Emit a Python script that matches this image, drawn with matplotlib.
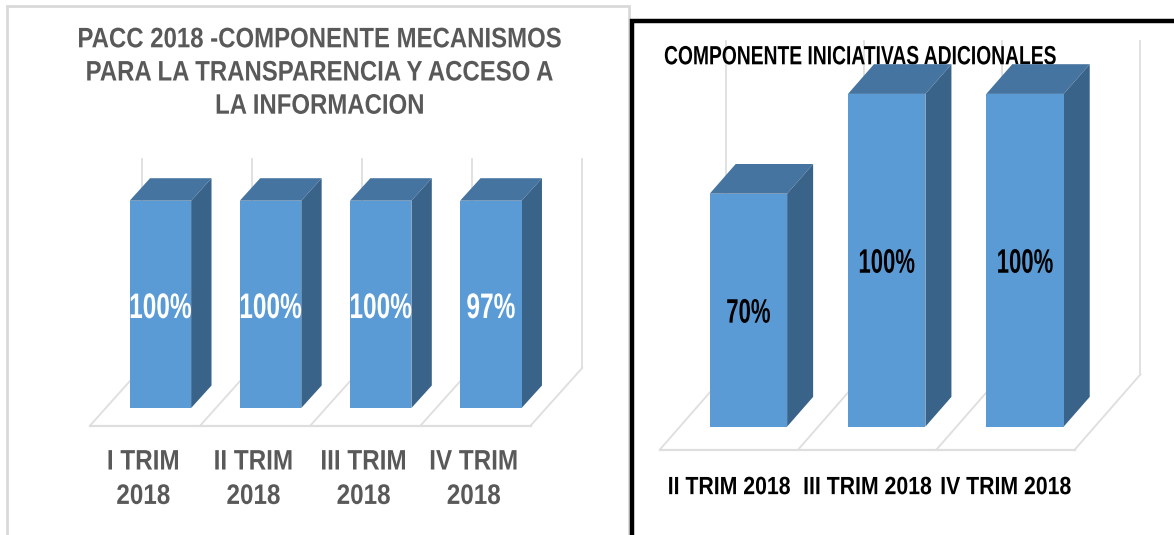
#!/usr/bin/env python3
import matplotlib
matplotlib.use("Agg")
import matplotlib.pyplot as plt
from matplotlib.patches import Polygon, Rectangle
from matplotlib.patheffects import AbstractPathEffect
from matplotlib.transforms import Affine2D, Bbox

W, H = 1174, 535
plt.rcParams["font.family"] = ["Liberation Sans"]

# ---- data ----
left_title = "PACC 2018 -COMPONENTE MECANISMOS\nPARA LA TRANSPARENCIA Y ACCESO A\nLA INFORMACION"
left_cats = ["I TRIM\n2018", "II TRIM\n2018", "III TRIM\n2018", "IV TRIM\n2018"]
left_heights = [100, 100, 100, 100]   # the 97% column is drawn as tall as the others
left_labels = ["100%", "100%", "100%", "97%"]

right_title = "COMPONENTE INICIATIVAS ADICIONALES"
right_cats = ["II TRIM 2018", "III TRIM 2018", "IV TRIM 2018"]
right_heights = [70, 100, 100]
right_labels = ["70%", "100%", "100%"]

FRONT, TOP, SIDE = "#5B9BD5", "#4674A1", "#3A6389"
GRID = "#DEDEDE"


class Squeeze(AbstractPathEffect):
    # narrow the glyphs around the text anchor, no condensed font is installed
    def __init__(self, artist, sx):
        super().__init__()
        self.artist = artist
        self.sx = sx

    def draw_path(self, renderer, gc, tpath, affine, rgbFace=None):
        cx = self.artist.get_transform().transform(self.artist.get_position())[0]
        squeeze = Affine2D().translate(-cx, 0).scale(self.sx, 1).translate(cx, 0)
        renderer.draw_path(gc, tpath, affine + squeeze, rgbFace)


def narrow_text(ax, x, y, s, sx, **kw):
    t = ax.text(x, y, s, fontweight="bold", clip_on=False, **kw)
    t.set_path_effects([Squeeze(t, sx)])
    full_extent = t.get_window_extent

    # report the narrowed box, not the one of the unsqueezed glyphs
    def narrowed_extent(renderer=None, dpi=None):
        b = full_extent(renderer, dpi)
        cx = t.get_transform().transform(t.get_position())[0]
        return Bbox([[cx + (b.x0 - cx) * sx, b.y0], [cx + (b.x1 - cx) * sx, b.y1]])

    t.get_window_extent = narrowed_extent
    return t


def chart_axes(fig, x0, pitch, y0, px_per_unit, box):
    # axes placed in pixels so that category i sits at x0 + i*pitch, value v at y0 - v*scale
    l, r, t, b = box
    ax = fig.add_axes([l / W, 1 - b / H, (r - l) / W, (b - t) / H])
    ax.set_xlim((l - x0) / pitch, (r - x0) / pitch)
    ax.set_ylim((y0 - b) / px_per_unit, (y0 - t) / px_per_unit)
    ax.axis("off")
    ax.patch.set_alpha(0)
    return ax


def columns(ax, values, width, dx, dy):
    for i, v in enumerate(values):
        x0, x1 = i - width / 2, i + width / 2
        ax.add_patch(Polygon([(x0, v), (x1, v), (x1 + dx, v + dy), (x0 + dx, v + dy)],
                             fc=TOP, ec="none", zorder=4))
        ax.add_patch(Polygon([(x1, 0), (x1 + dx, dy), (x1 + dx, v + dy), (x1, v)],
                             fc=SIDE, ec="none", zorder=4))
    ax.bar(range(len(values)), values, width=width, color=FRONT, zorder=5)


def floor(ax, n, front_x, back_dx, front_y, back_y, top_y):
    # front_x: left end of the floor in category units, one cell per category
    for i in range(n + 1):
        fx = front_x + i
        ax.plot([fx, fx + back_dx], [front_y, back_y], color=GRID, lw=1.3, zorder=1)
        ax.plot([fx + back_dx] * 2, [back_y, top_y], color=GRID, lw=1.3, zorder=1)
    ax.plot([front_x, front_x + n], [front_y, front_y], color=GRID, lw=1.6, zorder=1)


fig = plt.figure(figsize=(W / 100, H / 100), dpi=100, facecolor="white")

# page level: frames
bg = fig.add_axes([0, 0, 1, 1])
bg.set_xlim(0, W)
bg.set_ylim(H, 0)
bg.axis("off")
bg.add_patch(Rectangle((7, 6), 621.5, H + 20, fc="white", ec="#D9D9D9", lw=2))
bg.add_patch(Rectangle((631.5, 21), W + 20, H + 20, fc="white", ec="black", lw=3.2, zorder=3))

# ---- left chart ----
ax = chart_axes(fig, 160.4, 110.15, 408, 2.073, (80, 600, 150, 440))
floor(ax, 4, -0.639, 0.468, -8.5, 19.3, 120)
columns(ax, left_heights, 0.558, 0.185, 10.85)
for i, (v, s) in enumerate(zip(left_heights, left_labels)):
    narrow_text(ax, i, v / 2 - 2.0, s, 0.69, color="white", fontsize=25.5,
                ha="center", va="center", zorder=6)
narrow_text(bg, 320, 73.5, left_title, 0.85, color="#595959", fontsize=20.3,
            ha="center", va="center", linespacing=1.36)
for i, s in enumerate(left_cats):
    narrow_text(ax, i - 0.155, -34.6, s, 0.86, color="#595959", fontsize=20.3,
                ha="center", va="center", linespacing=1.42)

# ---- right chart ----
ax = chart_axes(fig, 748.4, 138.3, 426.6, 3.327, (650, 1150, 35, 455))
floor(ax, 3, -0.64, 0.475, -6.9, 15.7, 116)
columns(ax, right_heights, 0.56, 0.188, 8.93)
for i, (v, s) in enumerate(zip(right_heights, right_labels)):
    narrow_text(ax, i, v / 2 - 1.2, s, 0.65, color="black", fontsize=24.5,
                ha="center", va="center", zorder=6)
narrow_text(ax, -0.61, 111.0, right_title, 0.73, color="black", fontsize=19,
            ha="left", va="center", zorder=2)
for i, s in enumerate(right_cats):
    narrow_text(ax, i - 0.14, -18.2, s, 0.85, color="black", fontsize=18,
                ha="center", va="center")

fig.savefig("out.png", dpi=100)
